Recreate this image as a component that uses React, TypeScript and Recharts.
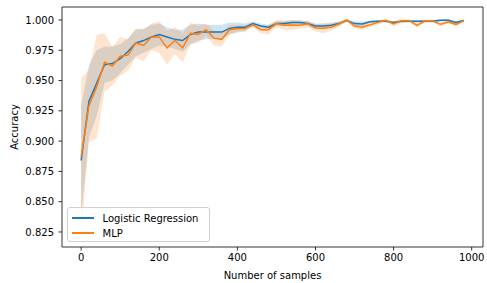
import React from "react";
import { ComposedChart, Line, Area, XAxis, YAxis, ReferenceLine } from "recharts";

const SAMPLES = [0, 20, 40, 60, 80, 100, 120, 140, 160, 180, 200, 220, 240, 260, 280, 300, 320, 340, 360, 380, 400, 420, 440, 460, 480, 500, 520, 540, 560, 580, 600, 620, 640, 660, 680, 700, 720, 740, 760, 780, 800, 820, 840, 860, 880, 900, 920, 940, 960, 980];

const LR_MEAN = [0.884, 0.933, 0.948, 0.963, 0.964, 0.968, 0.974, 0.981, 0.983, 0.986, 0.988, 0.986, 0.984, 0.983, 0.988, 0.990, 0.990, 0.990, 0.990, 0.993, 0.994, 0.994, 0.997, 0.995, 0.994, 0.997, 0.997, 0.998, 0.998, 0.997, 0.995, 0.995, 0.9956, 0.997, 0.9995, 0.997, 0.9967, 0.9986, 0.999, 0.999, 0.998, 0.999, 0.999, 0.999, 0.999, 0.999, 0.9997, 0.9997, 0.998, 0.9995];

const MLP_MEAN = [0.887, 0.929, 0.945, 0.965, 0.962, 0.970, 0.971, 0.981, 0.979, 0.986, 0.986, 0.977, 0.983, 0.977, 0.989, 0.988, 0.992, 0.985, 0.984, 0.992, 0.9927, 0.993, 0.996, 0.992, 0.992, 0.997, 0.9956, 0.9958, 0.9957, 0.9968, 0.9934, 0.9931, 0.994, 0.9967, 1.0, 0.995, 0.994, 0.996, 0.998, 0.9997, 0.9967, 0.9994, 0.9994, 0.9956, 0.9991, 0.9991, 0.9964, 0.9983, 0.9964, 0.9995];

const LR_STD = [0.045, 0.03, 0.027, 0.015, 0.014, 0.012, 0.011, 0.011, 0.01, 0.01, 0.009, 0.008, 0.008, 0.009, 0.008, 0.007, 0.006, 0.006, 0.006, 0.005, 0.004, 0.003, 0.002, 0.002, 0.002, 0.002, 0.002, 0.002, 0.002, 0.002, 0.002, 0.002, 0.002, 0.002, 0.001, 0.002, 0.002, 0.001, 0.001, 0.001, 0.001, 0.001, 0.001, 0.001, 0.001, 0.001, 0.001, 0.001, 0.001, 0.001];

const MLP_STD = [0.065, 0.03, 0.043, 0.024, 0.016, 0.016, 0.013, 0.012, 0.013, 0.011, 0.013, 0.014, 0.011, 0.012, 0.009, 0.007, 0.005, 0.006, 0.006, 0.004, 0.003, 0.003, 0.002, 0.003, 0.004, 0.003, 0.004, 0.004, 0.003, 0.003, 0.003, 0.004, 0.003, 0.002, 0.001, 0.002, 0.002, 0.002, 0.002, 0.001, 0.002, 0.002, 0.001, 0.002, 0.001, 0.001, 0.002, 0.001, 0.002, 0.001];

const X_TICKS = [0, 200, 400, 600, 800, 1000];
const Y_TICKS = [0.825, 0.85, 0.875, 0.9, 0.925, 0.95, 0.975, 1.0];
const X_DOMAIN = [-49, 1029];
const Y_DOMAIN = [0.8126, 1.0107];

const SERIES = [
  { key: "lr", name: "Logistic Regression", color: "#1f77b4" },
  { key: "mlp", name: "MLP", color: "#ff7f0e" },
];

const data = SAMPLES.map((x, i) => ({
  x,
  lr: LR_MEAN[i],
  mlp: MLP_MEAN[i],
  lrBand: [LR_MEAN[i] - LR_STD[i], LR_MEAN[i] + LR_STD[i]],
  mlpBand: [MLP_MEAN[i] - MLP_STD[i], MLP_MEAN[i] + MLP_STD[i]],
}));

const FONT = "'DejaVu Sans', sans-serif";
const tickStyle = { fontSize: 10, fill: "#000", fontFamily: FONT };

const LegendBox = () => (
  <div
    style={{
      position: "absolute",
      left: 67,
      top: 207,
      boxSizing: "border-box",
      width: 143,
      height: 35,
      border: "1px solid #d0d0d0",
      borderRadius: 3,
      background: "rgba(255,255,255,0.8)",
      fontFamily: FONT,
      fontSize: 10,
      color: "#000",
    }}
  >
    {SERIES.map((s, i) => (
      <div key={s.key} style={{ position: "absolute", left: 0, top: 2.5 + i * 15, height: 15, width: "100%" }}>
        <div style={{ position: "absolute", left: 4, top: 6.5, width: 21.5, height: 1.5, background: s.color }} />
        <div style={{ position: "absolute", left: 34.5, top: 0, lineHeight: "15px", whiteSpace: "nowrap" }}>{s.name}</div>
      </div>
    ))}
  </div>
);

export default function App() {
  return (
    <div style={{ position: "absolute", left: 0, top: 0, width: 487, height: 283, background: "#fff" }}>
      <ComposedChart width={487} height={283} data={data} margin={{ top: 7, right: 4, bottom: 0, left: 0 }}>
        <XAxis
          dataKey="x"
          type="number"
          domain={X_DOMAIN}
          ticks={X_TICKS}
          allowDataOverflow
          height={36}
          tickSize={3.5}
          tickMargin={3}
          tick={tickStyle}
          axisLine={{ stroke: "#000", strokeWidth: 0.8 }}
          tickLine={{ stroke: "#000", strokeWidth: 0.8 }}
          label={{ value: "Number of samples", position: "insideBottom", offset: 4, style: { fontSize: 10, fill: "#000", fontFamily: FONT } }}
        />
        <YAxis
          type="number"
          domain={Y_DOMAIN}
          ticks={Y_TICKS}
          allowDataOverflow
          width={62}
          tickSize={3.5}
          tickMargin={4.5}
          tick={tickStyle}
          tickFormatter={(v: number) => v.toFixed(3)}
          axisLine={{ stroke: "#000", strokeWidth: 0.8 }}
          tickLine={{ stroke: "#000", strokeWidth: 0.8 }}
          label={(props: any) => {
            const vb = props.viewBox || { x: 0, y: 7, height: 240 };
            const cx = vb.x + 17.5;
            const cy = vb.y + vb.height / 2;
            return (
              <text x={cx} y={cy} transform={`rotate(-90 ${cx} ${cy})`} textAnchor="middle" fontSize={10} fontFamily={FONT} fill="#000">
                Accuracy
              </text>
            );
          }}
        />
        <Area dataKey="lrBand" type="linear" stroke="none" fill="#1f77b4" fillOpacity={0.2} isAnimationActive={false} activeDot={false} />
        <Area dataKey="mlpBand" type="linear" stroke="none" fill="#ff7f0e" fillOpacity={0.2} isAnimationActive={false} activeDot={false} />
        <Line dataKey="lr" name="Logistic Regression" type="linear" stroke="#1f77b4" strokeWidth={1.5} dot={false} isAnimationActive={false} />
        <Line dataKey="mlp" name="MLP" type="linear" stroke="#ff7f0e" strokeWidth={1.5} dot={false} isAnimationActive={false} />
        <ReferenceLine y={Y_DOMAIN[1]} stroke="#000" strokeWidth={0.8} ifOverflow="visible" />
        <ReferenceLine x={X_DOMAIN[1]} stroke="#000" strokeWidth={0.8} ifOverflow="visible" />
      </ComposedChart>
      <LegendBox />
    </div>
  );
}
